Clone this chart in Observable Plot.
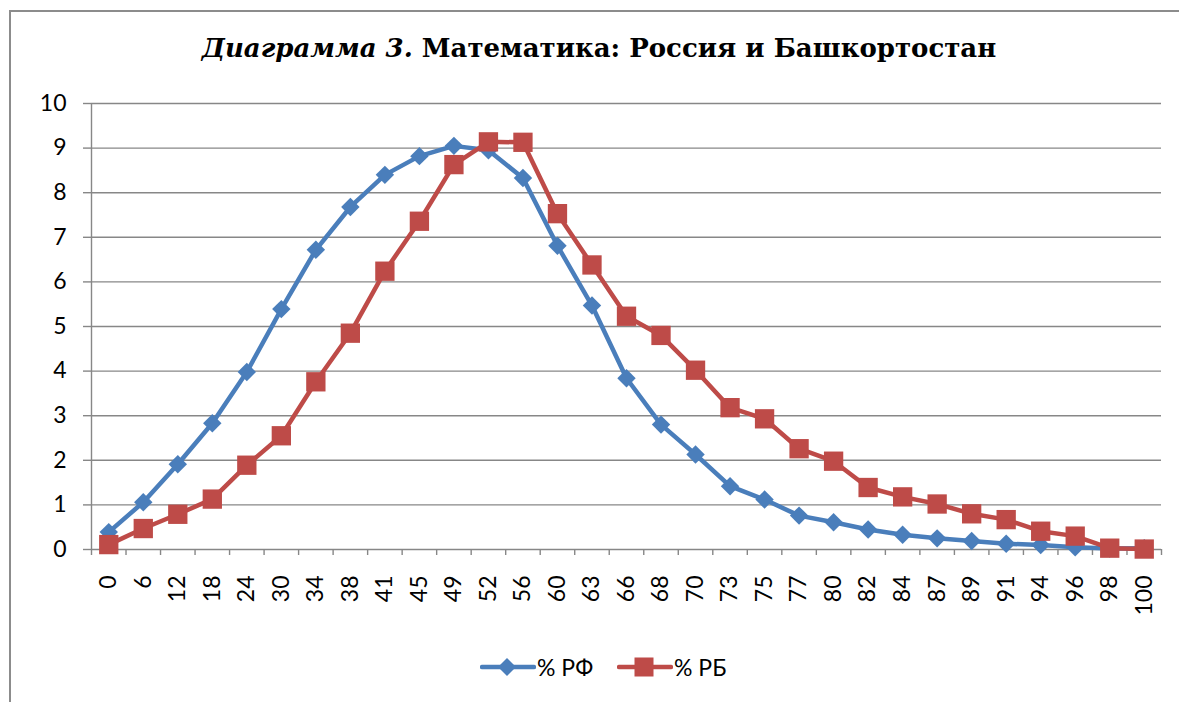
<!DOCTYPE html>
<html><head><meta charset="utf-8">
<script src="https://cdn.jsdelivr.net/npm/d3@7"></script>
<script src="https://cdn.jsdelivr.net/npm/@observablehq/plot@0.6"></script>
<style>
html,body{margin:0;padding:0;background:#fff}
body{width:1179px;height:702px;overflow:hidden;position:relative;font-family:Lato,sans-serif}
#frame{position:absolute;left:9px;top:10px;width:1300px;height:800px;border-left:2px solid #8c8c8c;border-top:2px solid #8c8c8c;box-sizing:border-box}
#chart{position:absolute;left:0;top:0}
#chart svg text{font-family:Lato,sans-serif !important;font-size:23px !important;fill:#000}
#title{position:absolute;left:0;width:1198px;top:33px;text-align:center;font-family:"DejaVu Serif",serif;font-weight:bold;font-size:26px;color:#000;white-space:nowrap}
#legend{position:absolute;top:654px;left:0;width:1179px;height:26px;font-family:Lato,sans-serif;font-size:23px;color:#000}
.item{position:absolute;top:0;display:flex;align-items:center;height:26px}
.item svg{display:block}
</style></head>
<body>
<div id="frame"></div>
<div id="chart"></div>
<div id="title"><i>Диаграмма 3.</i> Математика: Россия и Башкортостан</div>
<div id="legend"></div>
<script>
const categories = ["0","6","12","18","24","30","34","38","41","45","49","52","56","60","63","66","68","70","73","75","77","80","82","84","87","89","91","94","96","98","100"];
const rf = [0.39,1.06,1.91,2.83,3.98,5.39,6.72,7.68,8.4,8.82,9.05,8.95,8.33,6.81,5.47,3.84,2.8,2.13,1.42,1.12,0.76,0.61,0.45,0.33,0.25,0.19,0.13,0.1,0.05,0.02,0.03];
const rb = [0.11,0.47,0.79,1.13,1.89,2.55,3.76,4.85,6.24,7.36,8.63,9.14,9.13,7.53,6.38,5.23,4.8,4.02,3.18,2.93,2.26,1.98,1.39,1.18,1.02,0.8,0.67,0.41,0.3,0.03,0.01];
const yTicks = [0,1,2,3,4,5,6,7,8,9,10];
const seriesNames = ["% РФ","% РБ"];
const colors = ["#4A7EBB","#BE4B48"];

const data = categories.map((c,i)=>({c, rf: rf[i], rb: rb[i]}));
const W = 1179, H = 702, ML = 91, MR = 18, MT = 103, MB = 153;
const bw = (W - ML - MR) / categories.length;
const grey = "#878787";

const plot = Plot.plot({
  width: W, height: H,
  marginLeft: ML, marginRight: MR, marginTop: MT, marginBottom: MB,
  x: {type: "band", domain: categories, padding: 0, round: false, label: null},
  y: {domain: [0, 10], label: null},
  style: {fontFamily: "Lato, sans-serif", fontSize: "23px", color: "#000", background: "transparent", overflow: "visible"},
  marks: [
    Plot.gridY(yTicks, {stroke: grey, strokeOpacity: 1, strokeWidth: 1.4}),
    Plot.axisY(yTicks, {tickSize: 8, tickFormat: () => "", stroke: grey, strokeWidth: 1.4, label: null}),
    Plot.axisY(yTicks, {tickSize: 0, tickPadding: 25, label: null}),
    Plot.ruleX([categories[0]], {dx: -bw/2, y1: -0.135, y2: 10, stroke: grey, strokeWidth: 1.4}),
    Plot.ruleX(categories.slice(1), {dx: -bw/2, y1: -0.135, y2: 0, stroke: grey, strokeWidth: 1.4}),
    Plot.ruleX([categories[categories.length-1]], {dx: bw/2, y1: -0.135, y2: 0, stroke: grey, strokeWidth: 1.4}),
    Plot.axisX({tickSize: 0, tickRotate: -90, tickPadding: 26, label: null}),
    Plot.line(data, {x: "c", y: "rf", stroke: colors[0], strokeWidth: 4.5}),
    Plot.dot(data, {x: "c", y: "rf", symbol: "diamond2", r: 8.3, fill: colors[0], stroke: "none"}),
    Plot.line(data, {x: "c", y: "rb", stroke: colors[1], strokeWidth: 4.5}),
    Plot.dot(data, {x: "c", y: "rb", symbol: "square", r: 10.9, fill: colors[1], stroke: "none"})
  ]
});
document.getElementById("chart").appendChild(plot);

// legend
const legend = document.getElementById("legend");
const lefts = [480, 617];
seriesNames.forEach((name, i) => {
  const item = document.createElement("div");
  item.className = "item";
  item.style.left = lefts[i] + "px";
  const shape = i === 0
    ? `<path d="M27,4 L36,13 L27,22 L18,13 Z" fill="${colors[i]}"/>`
    : `<rect x="17.5" y="3.5" width="19" height="19" fill="${colors[i]}"/>`;
  item.innerHTML = `<svg width="56" height="26"><line x1="2" y1="13" x2="54" y2="13" stroke="${colors[i]}" stroke-width="4.5" stroke-linecap="round"/>${shape}</svg><span style="margin-left:1px">${name}</span>`;
  legend.appendChild(item);
});
</script>
</body></html>
